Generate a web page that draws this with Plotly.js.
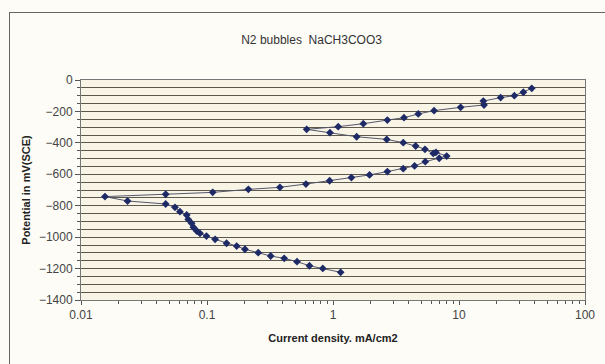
<!DOCTYPE html>
<html><head><meta charset="utf-8">
<script src="https://cdn.plot.ly/plotly-3.0.1.min.js"></script>
<style>
html,body{margin:0;padding:0;background:#fdfcf7;}
#frame{position:absolute;left:9px;top:12px;width:600px;height:360px;border:1px solid #666;box-sizing:border-box;}
#chart{position:absolute;left:0;top:0;width:605px;height:364px;}
</style></head>
<body>
<div id="frame"></div>
<div id="chart"></div>
<script>
// Current density (mA/cm2), in drawing order
const current = [1.15,0.83,0.65,0.518,0.41,0.32,0.255,0.20,0.172,0.143,0.116,0.099,0.088,0.083,0.078,0.0755,0.071,0.069,0.061,0.0557,0.047,0.0234,0.0155,0.047,0.111,0.213,0.379,0.61,0.94,1.40,1.95,2.70,3.61,4.44,5.4,6.97,7.98,6.56,6.25,5.37,4.53,3.61,2.67,1.54,0.946,0.618,1.10,1.74,2.70,3.66,4.75,6.34,10.3,15.8,15.6,21.4,27.5,32.4,37.8];
// Potential (mV vs SCE)
const potential = [-1224,-1199,-1182,-1156,-1135,-1120,-1099,-1077,-1057,-1039,-1014,-993,-976,-961,-937,-912,-887,-859,-838,-810,-789,-770,-742,-727,-715,-696,-683,-662,-641,-621,-604,-583,-564,-547,-520,-498,-484,-460,-467,-441,-420,-399,-378,-361,-335,-314,-297,-278,-255,-240,-216,-195,-174,-159,-134,-112,-100,-78,-53];
const titleText = 'N2 bubbles  NaCH3COO3';
const xTitle = 'Current density. mA/cm2';
const yTitle = 'Potential in mV(SCE)';
const xTickVals = [0.01,0.1,1,10,100];
const xTickText = ['0.01','0.1','1','10','100'];

const trace = {
  x: current, y: potential, type:'scatter', mode:'lines+markers',
  line:{color:'#55576a', width:1},
  marker:{symbol:'diamond', size:6, color:'#1e2a66'},
  hoverinfo:'none', showlegend:false
};
const layout = {
  width:605, height:364,
  margin:{l:81, r:20, t:80, b:64},
  paper_bgcolor:'rgba(0,0,0,0)',
  plot_bgcolor:'#f8f4e6',
  font:{family:'Liberation Sans, Arial, sans-serif', size:12, color:'#333'},
  title:{text:titleText, x:0.515, xanchor:'center', y:0.89, yanchor:'middle', font:{size:12, color:'#333'}},
  xaxis:{type:'log', range:[-2,2], tickvals:xTickVals, ticktext:xTickText,
    showgrid:false, zeroline:false, showline:true, linecolor:'#777', linewidth:1, mirror:true,
    ticks:'outside', ticklen:4, tickcolor:'#555',
    minor:{ticks:'outside', ticklen:3, tickcolor:'#555', tickvals:[0.02,0.03,0.04,0.05,0.06,0.07,0.08,0.09,0.2,0.3,0.4,0.5,0.6,0.7,0.8,0.9,2,3,4,5,6,7,8,9,20,30,40,50,60,70,80,90]},
    tickfont:{size:12,color:'#444'},
    title:{text:'<b>'+xTitle+'</b>', font:{size:11,color:'#222'}, standoff:12}},
  yaxis:{range:[-1400,0], dtick:200, tick0:0,
    showgrid:true, gridcolor:'#5e574c', gridwidth:1,
    zeroline:false, showline:true, linecolor:'#777', linewidth:1, mirror:true,
    ticks:'outside', ticklen:5, tickcolor:'#555',
    minor:{dtick:50, tick0:0, showgrid:true, gridcolor:'#5e574c', gridwidth:1, ticks:'outside', ticklen:3, tickcolor:'#555'},
    tickfont:{size:12,color:'#444'},
    title:{text:'<b>'+yTitle+'</b>', font:{size:11,color:'#222'}, standoff:6}}
};
Plotly.newPlot('chart',[trace],layout,{staticPlot:true, displayModeBar:false});
</script>
</body></html>
